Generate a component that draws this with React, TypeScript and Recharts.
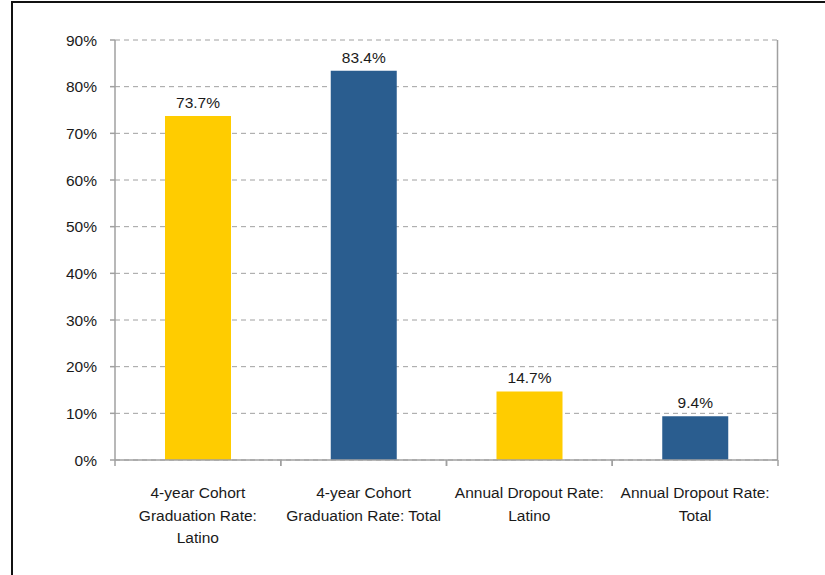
import { BarChart, Bar, XAxis, YAxis, CartesianGrid, LabelList, Cell } from 'recharts';

const categories = [
  '4-year Cohort\nGraduation Rate:\nLatino',
  '4-year Cohort\nGraduation Rate: Total',
  'Annual Dropout Rate:\nLatino',
  'Annual Dropout Rate:\nTotal',
];
const rates = [73.7, 83.4, 14.7, 9.4];
const barColors = ['#FFCC00', '#2A5D8F', '#FFCC00', '#2A5D8F'];
const yTicks = [0, 10, 20, 30, 40, 50, 60, 70, 80, 90];

const data = categories.map((name, i) => ({ name, value: rates[i] }));

const FONT = '"Liberation Sans", Arial, sans-serif';
const AXIS = '#A0A0A0';
const BAND = 663 / categories.length;

function CategoryTick(props: any) {
  const { x, y, payload } = props;
  const lines = String(payload.value).split('\n');
  return (
    <g>
      <line x1={x - BAND / 2} x2={x - BAND / 2} y1={y - 8} y2={y - 2} stroke={AXIS} strokeWidth={1.5} />
      <line x1={x + BAND / 2} x2={x + BAND / 2} y1={y - 8} y2={y - 2} stroke={AXIS} strokeWidth={1.5} />
      <text x={x} y={y + 30} textAnchor="middle" fontSize={15.5} fill="#1a1a1a" fontFamily={FONT}>
        {lines.map((l, i) => (
          <tspan key={i} x={x} dy={i === 0 ? 0 : 22.5}>{l}</tspan>
        ))}
      </text>
    </g>
  );
}

export default function App() {
  return (
    <div style={{ position: 'absolute', left: 0, top: 0, width: 825, height: 575, background: '#fff', fontFamily: FONT }}>
      <div style={{ position: 'absolute', left: 11, top: 1, width: 2, height: 574, background: '#111' }} />
      <div style={{ position: 'absolute', left: 11, top: 1, width: 814, height: 2, background: '#111' }} />
      <BarChart
        width={825}
        height={575}
        data={data}
        margin={{ top: 40, right: 47, bottom: 15, left: 0 }}
        barSize={66}
      >
        <CartesianGrid vertical={false} stroke={AXIS} strokeDasharray="5 4" />
        <CartesianGrid horizontal={false} verticalPoints={[777.5]} stroke={AXIS} strokeWidth={1.5} />
        <XAxis
          dataKey="name"
          height={100}
          axisLine={{ stroke: AXIS, strokeWidth: 1.5 }}
          tickLine={false}
          interval={0}
          tick={<CategoryTick />}
        />
        <YAxis
          width={115}
          domain={[0, 90]}
          ticks={yTicks}
          tickFormatter={(v) => `${v}%`}
          axisLine={{ stroke: AXIS, strokeWidth: 1.5 }}
          tickLine={{ stroke: AXIS, strokeWidth: 1.5 }}
          tickSize={5}
          tickMargin={13}
          tick={{ fontSize: 15.5, fill: '#1a1a1a', fontFamily: FONT }}
        />
        <Bar dataKey="value" isAnimationActive={false}>
          {data.map((d, i) => (
            <Cell key={i} fill={barColors[i]} />
          ))}
          <LabelList
            dataKey="value"
            position="top"
            offset={8}
            formatter={(v: any) => `${v}%`}
            style={{ fontSize: 15.5, fill: '#1a1a1a', fontFamily: FONT }}
          />
        </Bar>
      </BarChart>
    </div>
  );
}
